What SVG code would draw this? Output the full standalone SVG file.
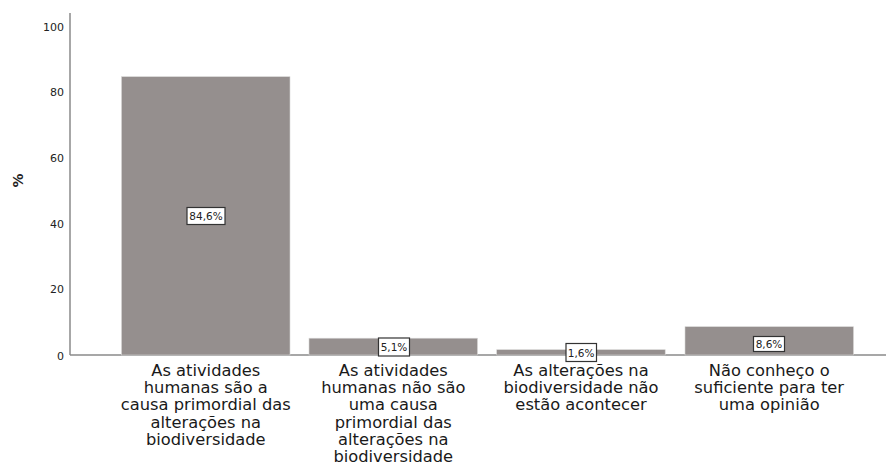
<svg xmlns="http://www.w3.org/2000/svg" width="886" height="466" viewBox="0 0 886 466">
<style>
.bar{fill:#958f8e;stroke:#d8d6d5;stroke-width:0.6}
.axis{stroke:#8a8a8a;stroke-width:1.5;fill:none}
.tick{font-family:"DejaVu Sans",sans-serif;font-size:11px;fill:#222;text-anchor:end}
.cat{font-family:"DejaVu Sans",sans-serif;font-size:16.3px;fill:#1a1a1a;text-anchor:middle}
.lblbox{fill:#fff;stroke:#333;stroke-width:1.2}
.lbl{font-family:"DejaVu Sans",sans-serif;font-size:10.5px;fill:#222;text-anchor:middle}
.ttl{font-family:"DejaVu Sans",sans-serif;font-size:14px;font-weight:bold;fill:#222;text-anchor:middle}
</style>
<rect width="886" height="466" fill="#fff"/>
<g id="axes">
<line class="axis" x1="70" y1="13" x2="70" y2="355"/>
<line class="axis" x1="70" y1="355" x2="886" y2="355"/>
<text class="tick" x="64" y="30.5">100</text>
<text class="tick" x="64" y="96">80</text>
<text class="tick" x="64" y="161.8">60</text>
<text class="tick" x="64" y="227.6">40</text>
<text class="tick" x="64" y="293.4">20</text>
<text class="tick" x="64" y="359.5">0</text>
<text class="ttl" transform="translate(23,180.5) rotate(-90)">%</text>
</g>
<g id="bar1">
<rect class="bar" x="121.5" y="76.7" width="168.5" height="278.3"/>
<rect class="lblbox" x="187" y="207.5" width="38" height="17"/>
<text class="lbl" x="206" y="220">84,6%</text>
<text class="cat" x="205.8" y="376">As atividades<tspan x="205.8" dy="17.2">humanas são a</tspan><tspan x="205.8" dy="17.2">causa primordial das</tspan><tspan x="205.8" dy="17.2">alterações na</tspan><tspan x="205.8" dy="17.2">biodiversidade</tspan></text>
</g>
<g id="bar2">
<rect class="bar" x="309" y="338.2" width="168.5" height="16.8"/>
<rect class="lblbox" x="378.5" y="338" width="31" height="18"/>
<text class="lbl" x="394" y="351">5,1%</text>
<text class="cat" x="393.3" y="376">As atividades<tspan x="393.3" dy="17.2">humanas não são</tspan><tspan x="393.3" dy="17.2">uma causa</tspan><tspan x="393.3" dy="17.2">primordial das</tspan><tspan x="393.3" dy="17.2">alterações na</tspan><tspan x="393.3" dy="17.2">biodiversidade</tspan></text>
</g>
<g id="bar3">
<rect class="bar" x="496.7" y="349.7" width="168.5" height="5.3"/>
<rect class="lblbox" x="566" y="343.5" width="30.5" height="18"/>
<text class="lbl" x="581.2" y="356.5">1,6%</text>
<text class="cat" x="581" y="376">As alterações na<tspan x="581" dy="17.2">biodiversidade não</tspan><tspan x="581" dy="17.2">estão acontecer</tspan></text>
</g>
<g id="bar4">
<rect class="bar" x="685" y="326.7" width="168.5" height="28.3"/>
<rect class="lblbox" x="753.5" y="336.5" width="31" height="15"/>
<text class="lbl" x="769" y="348">8,6%</text>
<text class="cat" x="769.2" y="376">Não conheço o<tspan x="769.2" dy="17.2">suficiente para ter</tspan><tspan x="769.2" dy="17.2">uma opinião</tspan></text>
</g>
<g id="connectors"/>
</svg>
